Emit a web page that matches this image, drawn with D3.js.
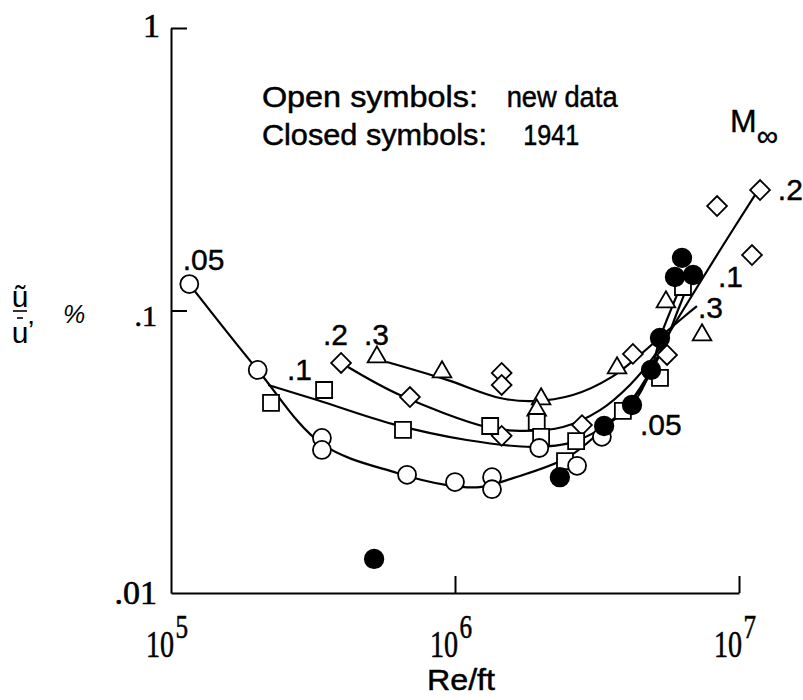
<!DOCTYPE html>
<html>
<head>
<meta charset="utf-8">
<script src="https://cdn.jsdelivr.net/npm/d3@7"></script>
<style>
  body { margin: 0; background: #fff; }
  svg { display: block; }
</style>
</head>
<body>
<div id="chart"></div>
<script>
// Re/ft , u~/u' (%)
const open05 = [[1.16e5, 0.124], [2.02e5, 0.0616], [3.40e5, 0.0354], [3.40e5, 0.0321], [6.78e5, 0.0262],
  [1.0e6, 0.0247], [1.35e6, 0.0257], [1.35e6, 0.0233], [1.98e6, 0.0326], [2.69e6, 0.0282], [3.29e6, 0.0357]]
const open1 = [[2.25e5, 0.0471], [3.46e5, 0.0523], [6.56e5, 0.0378], [1.33e6, 0.0390], [1.94e6, 0.0403],
  [2.01e6, 0.0357], [2.44e6, 0.0293], [2.67e6, 0.0345], [3.90e6, 0.0441], [5.27e6, 0.0577], [6.35e6, 0.1211]]
const open2 = [[3.97e5, 0.0652], [6.94e5, 0.0494], [1.46e6, 0.0360], [1.46e6, 0.0601], [1.46e6, 0.0545],
  [2.80e6, 0.0393], [4.23e6, 0.0702], [5.58e6, 0.0696], [8.37e6, 0.2343], [1.186e7, 0.267], [1.111e7, 0.1572]]
const open3 = [[5.31e5, 0.0684], [9.00e5, 0.0606], [2.01e6, 0.0486], [1.94e6, 0.0444], [3.72e6, 0.0626],
  [5.53e6, 0.1072], [7.41e6, 0.0819]]
const closed1941 = [[5.19e5, 0.0132], [2.34e6, 0.0257], [3.35e6, 0.0390], [4.20e6, 0.0463], [4.90e6, 0.0616],
  [5.27e6, 0.0799], [6.30e6, 0.1535], [5.95e6, 0.1314], [6.89e6, 0.1336]]

// faired curves
const curve05 = [[1.16e5, 0.124], [2.02e5, 0.0616], [3.40e5, 0.0337], [6.25e5, 0.0266], [9.37e5, 0.0241],
  [1.22e6, 0.0237], [1.60e6, 0.0255], [2.48e6, 0.0301], [3.24e6, 0.0372], [4.13e6, 0.0474], [4.94e6, 0.0626], [5.49e6, 0.0786]]
const curve1 = [[2.20e5, 0.0545], [3.27e5, 0.0482], [6.05e5, 0.0396], [1.10e6, 0.0348], [1.88e6, 0.0329],
  [2.60e6, 0.0342], [3.51e6, 0.0403], [4.48e6, 0.0523], [5.36e6, 0.0725], [6.10e6, 0.1004], [6.61e6, 0.1231]]
const curve2 = [[4.20e5, 0.0631], [6.40e5, 0.0502], [1.29e6, 0.0387], [1.69e6, 0.0375], [2.40e6, 0.0387],
  [3.24e6, 0.0444], [4.13e6, 0.0545], [5.06e6, 0.0696], [6.20e6, 0.0964], [8.58e6, 0.1638], [1.157e7, 0.2628]]
const curve3 = [[5.76e5, 0.0657], [9.37e5, 0.0568], [1.44e6, 0.0490], [1.88e6, 0.0478], [2.60e6, 0.0502],
  [3.57e6, 0.0582], [4.48e6, 0.0696], [5.49e6, 0.0833], [6.45e6, 0.0956], [7.11e6, 0.1037]]
const curve1941 = [[3.35e6, 0.0390], [4.20e6, 0.0463], [4.90e6, 0.0616], [5.27e6, 0.0799], [5.95e6, 0.109], [6.25e6, 0.1231]]

const machLabels = [[".05", 1.10e5, 0.139], [".1", 2.56e5, 0.0568], [".2", 3.43e5, 0.0755], [".3", 4.78e5, 0.0755],
  [".05", 4.48e6, 0.0362], [".3", 7.17e6, 0.0941], [".1", 8.43e6, 0.121], [".2", 1.37e7, 0.246]]

const xTickValues = [1e5, 1e6, 1e7]
const yTickValues = [0.01, 0.1, 1]
const yTickLabels = [".01", ".1", "1"]

const sans = "'Liberation Sans', Arial, sans-serif"
const serif = "'Liberation Serif', 'DejaVu Serif', serif"

// condensed look: squeeze the text to the width measured on the figure
function squeeze(sel, w) {
    return sel.attr("textLength", w).attr("lengthAdjust", "spacingAndGlyphs")
}

function drawChart() {
    let dimensions = {
        width: 803,
        height: 700,
        margin: { top: 28, right: 64, bottom: 107, left: 171 },
    }
    dimensions.boundedWidth = dimensions.width - dimensions.margin.left - dimensions.margin.right
    dimensions.boundedHeight = dimensions.height - dimensions.margin.top - dimensions.margin.bottom

    const svg = d3.select("#chart").append("svg")
        .attr("width", dimensions.width)
        .attr("height", dimensions.height)

    const bounds = svg.append("g")
        .attr("transform", `translate(${dimensions.margin.left},${dimensions.margin.top})`)

    const x = d3.scaleLog().domain([1e5, 1e7]).range([0, dimensions.boundedWidth])
    const y = d3.scaleLog().domain([0.01, 1]).range([dimensions.boundedHeight, 0])

    // axes
    bounds.append("g")
        .attr("transform", `translate(0,${dimensions.boundedHeight})`)
        .call(d3.axisBottom(x).tickValues(xTickValues.slice(1)).tickSize(-17).tickSizeOuter(0).tickFormat(""))
    bounds.append("g")
        .call(d3.axisLeft(y).tickValues(yTickValues.slice(1)).tickSize(-16).tickSizeOuter(0).tickFormat(""))
    bounds.selectAll(".domain, .tick line").attr("stroke", "#000").attr("stroke-width", 2)

    // tick labels
    yTickValues.forEach((v, i) => {
        const big = v == 1
        bounds.append("text")
            .attr("x", big ? -11 : -14)
            .attr("y", y(v) + (big ? 9 : (v == 0.01 ? 11 : 15)))
            .attr("text-anchor", "end")
            .style("font-family", serif)
            .style("font-size", big ? "34px" : (v == 0.01 ? "34px" : "30px"))
            .attr("stroke", "#000").attr("stroke-width", 0.6)
            .text(yTickLabels[i])
    })
    xTickValues.forEach(v => {
        const e = Math.round(Math.log10(v))
        const t = bounds.append("text")
            .attr("transform", `translate(${x(v) - 25},${dimensions.boundedHeight + 64}) scale(0.74,1)`)
            .style("font-family", serif).style("font-size", "38px")
            .attr("stroke", "#000").attr("stroke-width", 0.6)
        t.append("tspan").text("10")
        t.append("tspan").attr("dx", 2).attr("dy", -19).style("font-size", "34px").text(e)
    })
    squeeze(svg.append("text").attr("x", 427).attr("y", 690), 68)
        .style("font-family", sans).style("font-size", "30px")
        .attr("stroke", "#000").attr("stroke-width", 0.5)
        .text("Re/ft")

    // y label: u~ / u-'
    const yl = svg.append("g").attr("transform", "translate(20,0)")
    yl.append("text").attr("x", 0).attr("y", 307).attr("text-anchor", "middle")
        .style("font-family", sans).style("font-size", "30px").text("ũ")
    yl.append("line").attr("x1", -7).attr("x2", 7).attr("y1", 311).attr("y2", 311)
        .attr("stroke", "#000").attr("stroke-width", 1.6)
    yl.append("line").attr("x1", -3).attr("x2", 3).attr("y1", 318).attr("y2", 318)
        .attr("stroke", "#000").attr("stroke-width", 1.6)
    yl.append("text").attr("x", 0).attr("y", 343).attr("text-anchor", "middle")
        .style("font-family", sans).style("font-size", "30px").text("u")
    yl.append("text").attr("x", 8).attr("y", 340)
        .style("font-family", sans).style("font-size", "28px").text("’")
    svg.append("text").attr("x", 74).attr("y", 323).attr("text-anchor", "middle")
        .style("font-family", sans).style("font-size", "25px").style("font-style", "italic").text("%")

    // faired curves
    const line = d3.line()
        .x(d => x(d[0]))
        .y(d => y(d[1]))
        .curve(d3.curveCatmullRom.alpha(0.5))
    const curves = [curve05, curve1, curve2, curve3, curve1941]
    bounds.selectAll(".curve")
        .data(curves)
        .enter()
        .append("path")
        .attr("class", "curve")
        .attr("d", line)
        .attr("fill", "none")
        .attr("stroke", "#000")
        .attr("stroke-width", 2.2)

    // symbols
    function drawSymbols(data, type, size, fill, rotate) {
        bounds.append("g").selectAll("path")
            .data(data)
            .enter()
            .append("path")
            .attr("d", d3.symbol().type(type).size(size))
            .attr("transform", d => `translate(${x(d[0])},${y(d[1])})` + (rotate ? ` rotate(${rotate})` : ""))
            .attr("fill", fill)
            .attr("stroke", "#000")
            .attr("stroke-width", 1.8)
    }
    drawSymbols(open3, d3.symbolTriangle, 150, "#fff")
    drawSymbols(open2, d3.symbolSquare, 196, "#fff", 45)
    drawSymbols(open1, d3.symbolSquare, 256, "#fff")
    drawSymbols(open05, d3.symbolCircle, 254, "#fff")
    drawSymbols(closed1941, d3.symbolCircle, 270, "#000")

    // Mach number labels
    bounds.selectAll(".mach")
        .data(machLabels)
        .enter()
        .append("text")
        .attr("class", "mach")
        .attr("x", d => x(d[1]))
        .attr("y", d => y(d[2]))
        .style("font-family", sans)
        .style("font-size", "30px")
        .attr("stroke", "#000").attr("stroke-width", 0.4)
        .text(d => d[0])

    const mg = bounds.append("text")
        .attr("x", x(9.3e6)).attr("y", y(0.428))
        .style("font-family", sans).style("font-size", "32px")
        .attr("stroke", "#000").attr("stroke-width", 0.4)
    mg.append("tspan").text("M")
    mg.append("tspan").attr("dy", 14).style("font-size", "30px").text("∞")

    // annotation: text, width, second text, width, u, Re of second text
    const note = [["Open symbols:", 216, "new data", 111, 0.525, 1.52e6], ["Closed symbols:", 225, "1941", 56, 0.385, 1.74e6]]
    note.forEach(n => {
        squeeze(bounds.append("text").attr("x", x(2.09e5)).attr("y", y(n[4])), n[1])
            .style("font-family", sans).style("font-size", "30px")
            .attr("stroke", "#000").attr("stroke-width", 0.5)
            .text(n[0])
        squeeze(bounds.append("text").attr("x", x(n[5])).attr("y", y(n[4])), n[3])
            .style("font-family", sans).style("font-size", "30px")
            .attr("stroke", "#000").attr("stroke-width", 0.5)
            .text(n[2])
    })
}

drawChart()
</script>
</body>
</html>
